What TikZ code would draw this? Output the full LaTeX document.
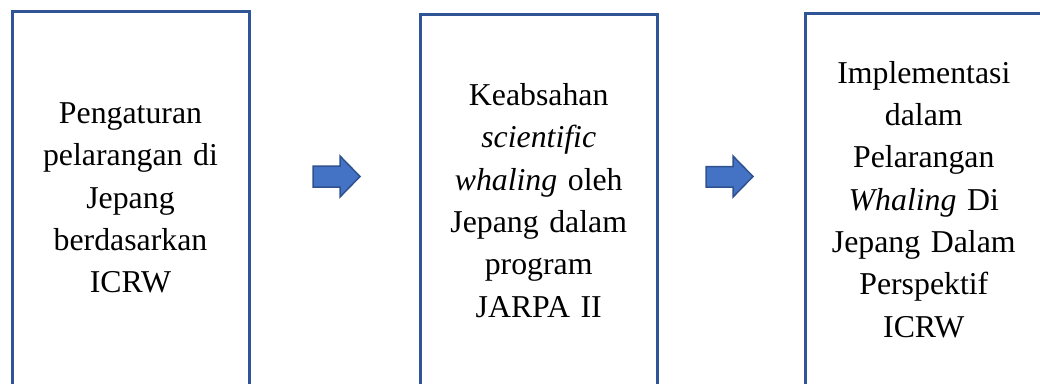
\documentclass[tikz,border=0pt]{standalone}
\usepackage{fontspec}
\setmainfont{Liberation Serif}
\definecolor{boxblue}{RGB}{47,85,151}
\definecolor{arrowfill}{RGB}{68,114,196}
\definecolor{arrowline}{RGB}{47,82,143}
\begin{document}
\begin{tikzpicture}[x=1pt,y=-1pt,
  stagebox/.style={draw=boxblue, line width=3pt, minimum width=237pt, inner sep=0pt,
    text width=230pt, align=center, font=\fontsize{31.8pt}{42.3pt}\selectfont},
  blockarrow/.style={fill=arrowfill, draw=arrowline, line width=1.5pt, line join=miter}]
\useasboundingbox (0,0) rectangle (1040,383);
\clip (0,0) rectangle (1040,383);
\node[stagebox, minimum height=374pt] (b1) at (130.5,198) {Pengaturan\\pelarangan di\\Jepang\\berdasarkan\\ICRW};
\node[stagebox, minimum height=373pt] (b2) at (538.7,200.5) {Keabsahan\\\textit{scientific}\\\textit{whaling} oleh\\Jepang dalam\\program\\JARPA II};
\node[stagebox, minimum height=373pt] (b3) at (923.8,199.5) {Implementasi\\dalam\\Pelarangan\\\textit{Whaling} Di\\Jepang Dalam\\Perspektif\\ICRW};
\path[blockarrow] (313,166) -- (340,166) -- (340,156) -- (360,176.5) -- (340,197) -- (340,187) -- (313,187) -- cycle;
\path[blockarrow] (706,166.5) -- (733,166.5) -- (733,156) -- (753,176.5) -- (733,197) -- (733,187) -- (706,187) -- cycle;
\end{tikzpicture}
\end{document}
